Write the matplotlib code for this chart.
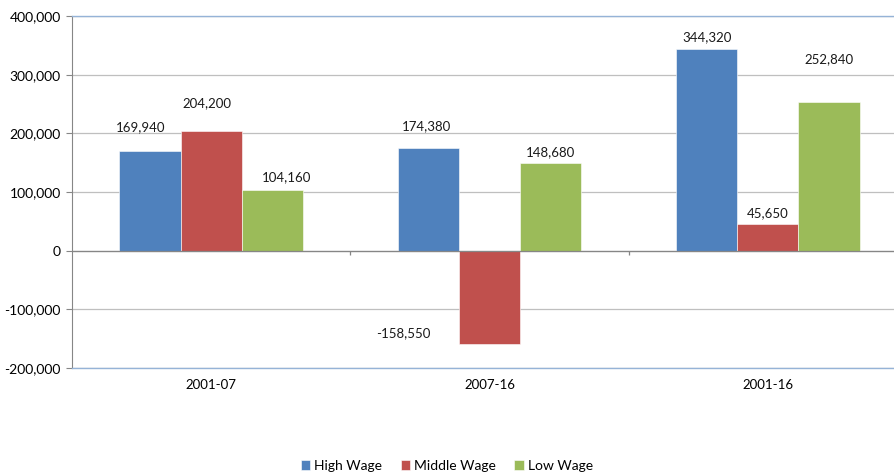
import matplotlib.pyplot as plt
import numpy as np

# data
periods = ['2001-07', '2007-16', '2001-16']
high_wage = [169940, 174380, 344320]
middle_wage = [204200, -158550, 45650]
low_wage = [104160, 148680, 252840]

series = [('High Wage', high_wage, '#4F81BD'),
          ('Middle Wage', middle_wage, '#C0504D'),
          ('Low Wage', low_wage, '#9BBB59')]

# label offsets in pixels (dx, dy) relative to bar end, per series
label_offsets = [
    [(-9, 24), (-2, 22), (0, 12)],
    [(-4, 28), (-86, 11), (0, 11)],
    [(14, 12), (0, 11), (0, 43)],
]

plt.rcParams['font.family'] = ['Lato', 'DejaVu Sans']

fig = plt.figure(figsize=(8.94, 4.72), dpi=100)
ax = fig.add_axes([0.0805, 0.2203, 0.934, 0.7457])

x = np.arange(len(periods))
width = 0.22

for i, (name, vals, color) in enumerate(series):
    pos = x + (i - 1) * width
    ax.bar(pos, vals, width, color=color, label=name, edgecolor='white', linewidth=0.4, zorder=3)
    for j, v in enumerate(vals):
        dx, dy = label_offsets[i][j]
        ax.annotate(f'{v:,}', (pos[j], v), xytext=(dx * 0.72, dy * 0.72), textcoords='offset points',
                    ha='center', va='center', fontsize=9.5, color='#1a1a1a')

ax.set_xlim(-0.5, 2.5)
ax.set_ylim(-200000, 400000)
ax.set_yticks(np.arange(-200000, 400001, 100000))
ax.yaxis.set_major_formatter(plt.FuncFormatter(lambda v, p: f'{int(v):,}'))
ax.grid(axis='y', color='#BFBFBF', linewidth=0.9, zorder=0)
ax.set_xticks(x)
ax.set_xticklabels(periods)
ax.tick_params(axis='x', length=0, pad=8, labelsize=9.5)
ax.tick_params(axis='y', length=4, color='#868686', labelsize=10, pad=4)

# category axis along zero
ax.axhline(0, color='#868686', linewidth=0.9, zorder=4)
ax.vlines([0.5, 1.5], -8000, 0, color='#868686', linewidth=0.9, zorder=4)

for side in ['top', 'bottom']:
    ax.spines[side].set_color('#95B3D7')
    ax.spines[side].set_linewidth(1.0)
ax.spines['left'].set_color('#868686')
ax.spines['right'].set_visible(False)

fig.legend(loc='center', bbox_to_anchor=(0.5, 0.013), ncol=3, frameon=False, fontsize=10,
           handlelength=0.7, handleheight=0.7, handletextpad=0.3, columnspacing=1.3)

fig.savefig('out.png', dpi=100)
